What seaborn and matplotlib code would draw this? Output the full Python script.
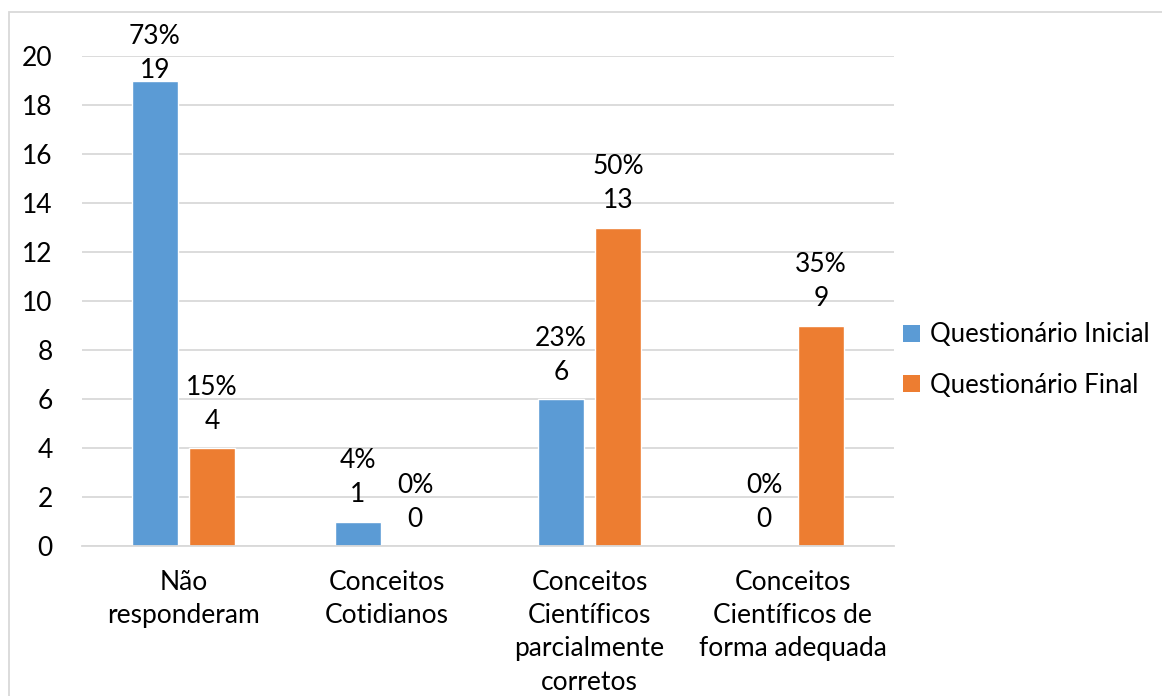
import matplotlib
matplotlib.use("Agg")
import matplotlib.pyplot as plt
import seaborn as sns
import pandas as pd
from matplotlib.patches import Rectangle, Patch

categories = [
    "Não\nresponderam",
    "Conceitos\nCotidianos",
    "Conceitos\nCientíficos\nparcialmente\ncorretos",
    "Conceitos\nCientíficos de\nforma adequada",
]
series_names = ["Questionário Inicial", "Questionário Final"]
inicial_counts = [19, 1, 6, 0]
final_counts = [4, 0, 13, 9]
inicial_pct = [73, 4, 23, 0]
final_pct = [15, 0, 50, 35]
y_ticks = [0, 2, 4, 6, 8, 10, 12, 14, 16, 18, 20]

colors = ["#5B9BD5", "#ED7D31"]

sns.set_theme(style="white")
plt.rcParams["font.family"] = ["Lato", "DejaVu Sans"]
text_color = "#000000"
fs = 19

df = pd.DataFrame({
    "categoria": categories * 2,
    "questionario": [series_names[0]] * 4 + [series_names[1]] * 4,
    "valor": inicial_counts + final_counts,
})

W, H = 1162, 696
fig = plt.figure(figsize=(W / 100, H / 100), dpi=100)
ax = fig.add_axes([82 / W, (H - 546) / H, 812 / W, 490 / H])

sns.barplot(data=df, x="categoria", y="valor", hue="questionario",
            order=categories, hue_order=series_names, palette=colors,
            width=0.5616, gap=0.21, saturation=1, ax=ax, legend=False)

ax.set_ylim(0, 20)
ax.set_xlim(-0.5, 3.5)
ax.set_yticks(y_ticks)
ax.set_yticklabels([str(t) for t in y_ticks], fontsize=fs, color=text_color)
ax.set_xlabel("")
ax.set_ylabel("")
ax.tick_params(axis="y", length=0, pad=21)
ax.tick_params(axis="x", length=0, pad=17, labelsize=fs, labelcolor=text_color)
for lbl in ax.get_xticklabels():
    lbl.set_linespacing(1.42)
ax.yaxis.grid(True, color="#D9D9D9", linewidth=1.3)
ax.set_axisbelow(True)
for side in ["top", "right", "left"]:
    ax.spines[side].set_visible(False)
ax.spines["bottom"].set_color("#D9D9D9")
ax.spines["bottom"].set_linewidth(1.3)

# Data labels: percentage over count, stacked above each bar.
# Labels sit 19 px above the bar, but are kept inside the chart area at the top.
label_gap_px = 19
min_baseline_from_top_px = 78
to_px = ax.transData
for container, counts, pcts in zip(ax.containers, [inicial_counts, final_counts],
                                   [inicial_pct, final_pct]):
    for bar, c, p in zip(container, counts, pcts):
        x = bar.get_x() + bar.get_width() / 2
        h = bar.get_height()
        bar_top_px = to_px.transform((x, h))[1]
        baseline_px = min(bar_top_px + label_gap_px, H - min_baseline_from_top_px)
        offset_pt = (baseline_px - bar_top_px) * 72 / 100
        ax.annotate(f"{p}%\n{c}", (x, h), xytext=(0, offset_pt),
                    textcoords="offset points", ha="center", va="baseline",
                    fontsize=fs, color=text_color, linespacing=1.47,
                    annotation_clip=False)

handles = [Patch(facecolor=c, edgecolor="none") for c in colors]
fig.legend(handles, series_names, loc="center left",
           bbox_to_anchor=(880 / W, 1 - 360 / H), frameon=False, fontsize=18.5,
           handlelength=0.65, handleheight=0.65, handletextpad=0.4,
           labelspacing=1.0, labelcolor=text_color)

# Outer chart border
fig.patches.append(Rectangle((9 / W, -0.1), 1.2, 1 - 12 / H + 0.1,
                             transform=fig.transFigure, fill=False,
                             edgecolor="#D9D9D9", linewidth=1.3))

fig.savefig("out.png", dpi=100, facecolor="white")
